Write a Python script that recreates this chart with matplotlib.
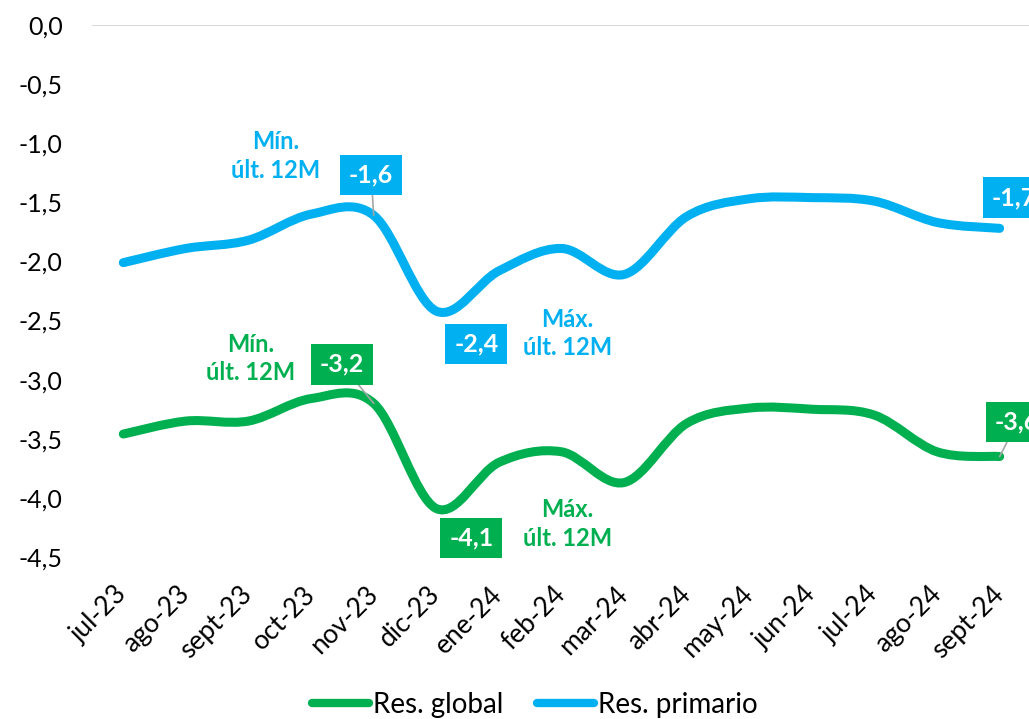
import numpy as np
import matplotlib
matplotlib.use("Agg")
import matplotlib.pyplot as plt
from matplotlib.path import Path
from matplotlib.patches import PathPatch
from matplotlib.lines import Line2D

plt.rcParams['font.family'] = ['Lato', 'DejaVu Sans']

months = ["jul-23", "ago-23", "sept-23", "oct-23", "nov-23", "dic-23", "ene-24",
          "feb-24", "mar-24", "abr-24", "may-24", "jun-24", "jul-24", "ago-24", "sept-24"]
res_global = [-3.46, -3.35, -3.35, -3.16, -3.20, -4.09, -3.70, -3.61, -3.87,
              -3.37, -3.24, -3.25, -3.30, -3.61, -3.65]
res_primario = [-2.01, -1.89, -1.82, -1.60, -1.61, -2.42, -2.08, -1.89, -2.11,
                -1.62, -1.47, -1.46, -1.49, -1.67, -1.72]

GREEN = "#00B050"
BLUE = "#00B0F0"


def smooth_path(y):
    # excel-like smoothed line: cubic bezier through every point
    x = np.arange(len(y), dtype=float)
    y = np.asarray(y, dtype=float)
    n = len(y)
    verts = [(x[0], y[0])]
    codes = [Path.MOVETO]
    for i in range(n - 1):
        p0 = i - 1 if i > 0 else i
        p3 = i + 2 if i + 2 < n else i + 1
        c1 = (x[i] + (x[i + 1] - x[p0]) / 6, y[i] + (y[i + 1] - y[p0]) / 6)
        c2 = (x[i + 1] - (x[p3] - x[i]) / 6, y[i + 1] - (y[p3] - y[i]) / 6)
        verts += [c1, c2, (x[i + 1], y[i + 1])]
        codes += [Path.CURVE4] * 3
    return Path(verts, codes)


fig = plt.figure(figsize=(10.29, 7.19), dpi=100)
ax = fig.add_axes([0.0894, 0.2253, 0.9125, 0.7399])

for vals, col in [(res_global, GREEN), (res_primario, BLUE)]:
    ax.add_patch(PathPatch(smooth_path(vals), facecolor="none", edgecolor=col,
                           lw=6.5, capstyle="round", joinstyle="round", zorder=3))

ax.axhline(0, color="#D9D9D9", lw=1.5, zorder=1)
ax.set_xlim(-0.5, len(months) - 0.5)
ax.set_ylim(-4.5, 0)
ax.set_yticks(np.arange(0, -4.51, -0.5))
ax.set_yticklabels([f"{v:.1f}".replace(".", ",") for v in np.arange(0, -4.51, -0.5)], fontsize=18)
ax.set_xticks(range(len(months)))
ax.set_xticklabels(months, fontsize=19, rotation=45, ha="right", va="center",
                   rotation_mode="anchor")
ax.tick_params(axis="y", length=0, pad=21)
ax.tick_params(axis="x", length=0, pad=24)
for s in ax.spines.values():
    s.set_visible(False)


def box(txt, xy, xytext, col, leader=True):
    ax.annotate(txt, xy=xy, xytext=xytext, ha="center", va="center",
                fontsize=18, fontweight="bold", color="white",
                bbox=dict(boxstyle="square,pad=0.35", fc=col, ec="none"),
                arrowprops=dict(arrowstyle="-", color="#A6A6A6", lw=1.2, shrinkA=0, shrinkB=0)
                if leader else None,
                annotation_clip=False, zorder=5)


box("-1,6", (4, res_primario[4]), (3.96, -1.27), BLUE)
box("-2,4", (5, res_primario[5]), (5.64, -2.70), BLUE, leader=False)
box("-1,7", (14, res_primario[14]), (14.23, -1.46), BLUE, leader=False)
box("-3,2", (4, res_global[4]), (3.49, -2.87), GREEN)
box("-4,1", (5, res_global[5]), (5.56, -4.34), GREEN, leader=False)
box("-3,6", (14, res_global[14]), (14.28, -3.36), GREEN)

lbl = dict(ha="center", va="center", fontsize=17, fontweight="bold", linespacing=1.3)
ax.text(2.43, -1.11, "Mín.\núlt. 12M", color=BLUE, **lbl)
ax.text(7.09, -2.61, "Máx.\núlt. 12M", color=BLUE, **lbl)
ax.text(2.03, -2.82, "Mín.\núlt. 12M", color=GREEN, **lbl)
ax.text(7.09, -4.22, "Máx.\núlt. 12M", color=GREEN, **lbl)

handles = [Line2D([], [], color=GREEN, lw=6, solid_capstyle="round"),
           Line2D([], [], color=BLUE, lw=6, solid_capstyle="round")]
fig.legend(handles, ["Res. global", "Res. primario"], loc="center",
           bbox_to_anchor=(0.52, 0.02), ncol=2, frameon=False, fontsize=20,
           handlelength=2.05, handletextpad=0.15, columnspacing=1.2)

fig.savefig("out.png", dpi=100)
